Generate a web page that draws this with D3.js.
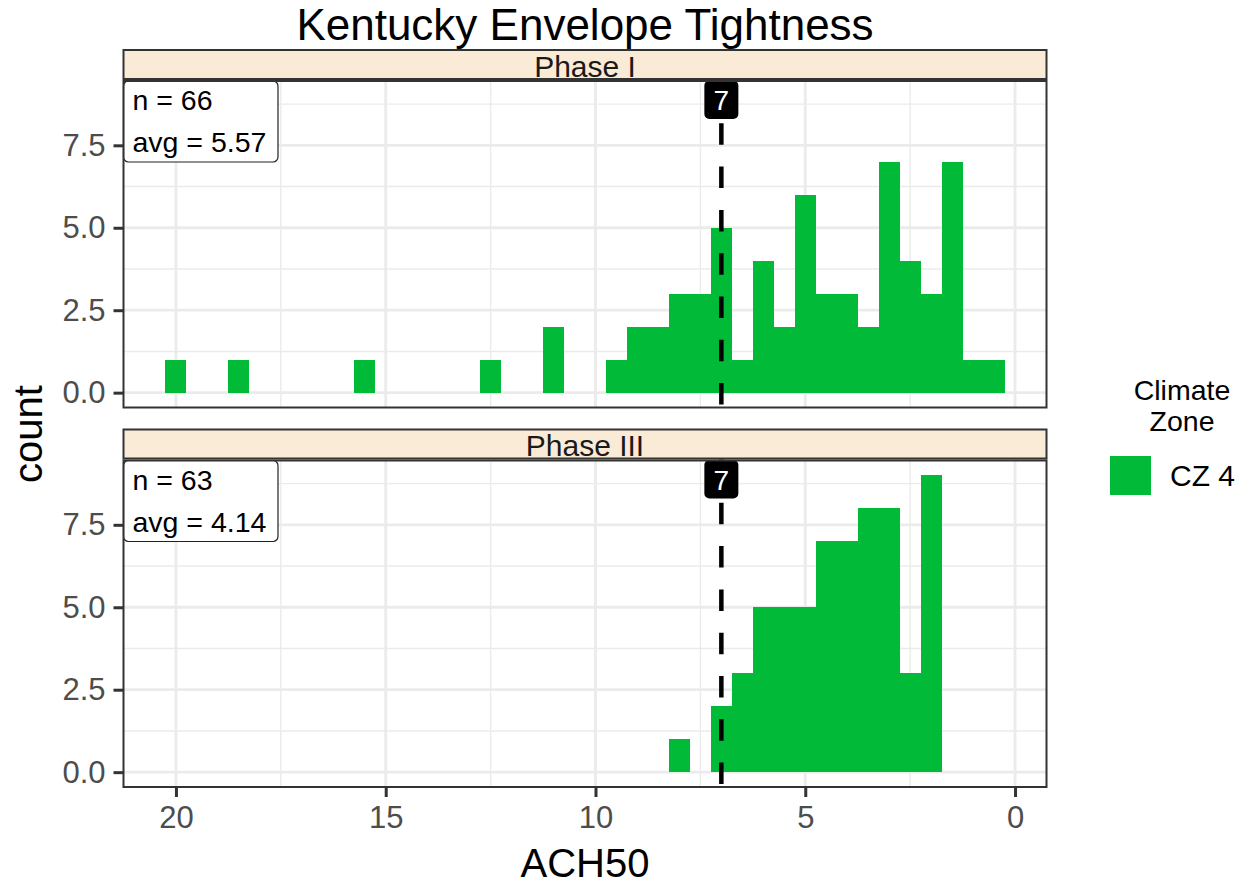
<!DOCTYPE html>
<html>
<head>
<meta charset="utf-8">
<script src="https://cdn.jsdelivr.net/npm/d3@7"></script>
<style>
  html, body { margin: 0; padding: 0; background: #ffffff; }
  svg { display: block; font-family: "Liberation Sans", Arial, Helvetica, sans-serif; }
</style>
</head>
<body>
<svg id="chart" width="1250" height="884"></svg>
<script>
// ACH50 histogram bins (bin centres, width 0.5) and counts per phase
const binWidth = 0.5;
const phase1Bins   = [20, 18.5, 15.5, 12.5, 11, 9.5, 9, 8.5, 8, 7.5, 7, 6.5, 6, 5.5, 5, 4.5, 4, 3.5, 3, 2.5, 2, 1.5, 1, 0.5];
const phase1Counts = [1, 1, 1, 1, 2, 1, 2, 2, 3, 3, 5, 1, 4, 2, 6, 3, 3, 2, 7, 4, 3, 7, 1, 1];
const phase3Bins   = [8, 7, 6.5, 6, 5.5, 5, 4.5, 4, 3.5, 3, 2.5, 2];
const phase3Counts = [1, 2, 3, 5, 5, 5, 7, 7, 8, 8, 3, 9];

const facetNames = ["Phase I", "Phase III"];
const facetN     = [66, 63];
const facetAvg   = ["5.57", "4.14"];
const threshold  = 7;

const xTicks      = [20, 15, 10, 5, 0];
const xMinorTicks = [17.5, 12.5, 7.5, 2.5];
const yTicks      = [0, 2.5, 5, 7.5];
const yMinorTicks = [1.25, 3.75, 6.25, 8.75];

const legendTitle = ["Climate", "Zone"];
const legendLabel = "CZ 4";
const barColor = "#00BA38";

const svg = d3.select("#chart");

// layout
const L = 123.5, R = 1046.5;
const stripH = 29;
const panels = [
  { stripTop: 50,    top: 81,  bottom: 407.5 },
  { stripTop: 429.5, top: 460.5, bottom: 787 }
];

const x = d3.scaleLinear().domain([21.25, -0.75]).range([L, R]);

const facetData = [
  phase1Bins.map((b, i) => ({ c: b, n: phase1Counts[i] })),
  phase3Bins.map((b, i) => ({ c: b, n: phase3Counts[i] }))
];

// title
svg.append("text")
  .attr("x", (L + R) / 2).attr("y", 40)
  .attr("text-anchor", "middle")
  .attr("font-size", 44).attr("fill", "#000")
  .text("Kentucky Envelope Tightness");

panels.forEach((p, k) => {
  const y = d3.scaleLinear().domain([-0.45, 9.45]).range([p.bottom, p.top]);
  const g = svg.append("g");

  // panel background
  g.append("rect").attr("x", L).attr("y", p.top).attr("width", R - L).attr("height", p.bottom - p.top)
    .attr("fill", "#fff");

  // minor grid
  g.selectAll(null).data(xMinorTicks).join("line")
    .attr("x1", d => x(d)).attr("x2", d => x(d)).attr("y1", p.top).attr("y2", p.bottom)
    .attr("stroke", "#ebebeb").attr("stroke-width", 1.4);
  g.selectAll(null).data(yMinorTicks).join("line")
    .attr("x1", L).attr("x2", R).attr("y1", d => y(d)).attr("y2", d => y(d))
    .attr("stroke", "#ebebeb").attr("stroke-width", 1.4);
  // major grid
  g.selectAll(null).data(xTicks).join("line")
    .attr("x1", d => x(d)).attr("x2", d => x(d)).attr("y1", p.top).attr("y2", p.bottom)
    .attr("stroke", "#ebebeb").attr("stroke-width", 2.8);
  g.selectAll(null).data(yTicks).join("line")
    .attr("x1", L).attr("x2", R).attr("y1", d => y(d)).attr("y2", d => y(d))
    .attr("stroke", "#ebebeb").attr("stroke-width", 2.8);

  // histogram bars
  g.selectAll(null).data(facetData[k]).join("rect")
    .attr("x", d => x(d.c + binWidth / 2))
    .attr("width", d => x(d.c - binWidth / 2) - x(d.c + binWidth / 2))
    .attr("y", d => y(d.n))
    .attr("height", d => y(0) - y(d.n))
    .attr("fill", barColor)
    .attr("shape-rendering", "crispEdges");

  // threshold line
  g.append("line")
    .attr("x1", x(threshold)).attr("x2", x(threshold))
    .attr("y1", p.top - 1).attr("y2", p.bottom)
    .attr("stroke", "#000").attr("stroke-width", 4.5)
    .attr("stroke-dasharray", "21.5 21.8");

  // threshold label
  const lw = 34, lh = 38.5;
  g.append("rect")
    .attr("x", x(threshold) - lw / 2).attr("y", p.top - 0.5)
    .attr("width", lw).attr("height", lh).attr("rx", 5).attr("ry", 5)
    .attr("fill", "#000");
  g.append("text")
    .attr("x", x(threshold)).attr("y", p.top + 29)
    .attr("text-anchor", "middle").attr("font-size", 28).attr("fill", "#fff")
    .text(String(threshold));

  // n / avg label box
  g.append("rect")
    .attr("x", L).attr("y", p.top)
    .attr("width", 154.5).attr("height", 81).attr("rx", 5).attr("ry", 5)
    .attr("fill", "#fff").attr("stroke", "#222").attr("stroke-width", 1.2);
  g.append("text").attr("x", L + 9).attr("y", p.top + 29)
    .attr("font-size", 28.5).attr("fill", "#000").text("n = " + facetN[k]);
  g.append("text").attr("x", L + 9).attr("y", p.top + 71)
    .attr("font-size", 28.5).attr("fill", "#000").text("avg = " + facetAvg[k]);

  // panel border
  g.append("rect").attr("x", L).attr("y", p.top).attr("width", R - L).attr("height", p.bottom - p.top)
    .attr("fill", "none").attr("stroke", "#333").attr("stroke-width", 2);

  // strip
  g.append("rect").attr("x", L).attr("y", p.stripTop).attr("width", R - L).attr("height", stripH)
    .attr("fill", "#FAEBD7").attr("stroke", "#333").attr("stroke-width", 2);
  g.append("text").attr("x", (L + R) / 2).attr("y", p.stripTop + 26.5)
    .attr("text-anchor", "middle").attr("font-size", 30).attr("fill", "#1a1a1a")
    .text(facetNames[k]);

  // y axis
  const yAxis = g.append("g").attr("transform", `translate(${L},0)`)
    .call(d3.axisLeft(y).tickValues(yTicks).tickFormat(d3.format(".1f")).tickSize(10).tickPadding(8));
  yAxis.select(".domain").remove();
  yAxis.selectAll(".tick line").attr("stroke", "#333").attr("stroke-width", 3);
  yAxis.selectAll(".tick text").attr("fill", "#4d4d4d").attr("font-size", 31)
    .attr("font-family", "Liberation Sans, Arial, sans-serif");

  // x axis on bottom panel only
  if (k === panels.length - 1) {
    const xAxis = g.append("g").attr("transform", `translate(0,${p.bottom})`)
      .call(d3.axisBottom(x).tickValues(xTicks).tickFormat(d3.format("d")).tickSize(10).tickPadding(9));
    xAxis.select(".domain").remove();
    xAxis.selectAll(".tick line").attr("stroke", "#333").attr("stroke-width", 3);
    xAxis.selectAll(".tick text").attr("fill", "#4d4d4d").attr("font-size", 31)
      .attr("font-family", "Liberation Sans, Arial, sans-serif");
  }
});

// axis titles
svg.append("text")
  .attr("x", (L + R) / 2).attr("y", 877)
  .attr("text-anchor", "middle").attr("font-size", 40).attr("fill", "#000")
  .text("ACH50");
svg.append("text")
  .attr("transform", `translate(42,${(panels[0].top + panels[1].bottom) / 2}) rotate(-90)`)
  .attr("text-anchor", "middle").attr("font-size", 40).attr("fill", "#000")
  .text("count");

// legend
const legend = svg.append("g");
legendTitle.forEach((t, i) => {
  legend.append("text").attr("x", 1182).attr("y", 400 + i * 31)
    .attr("text-anchor", "middle").attr("font-size", 28.5).attr("fill", "#000").text(t);
});
legend.append("rect").attr("x", 1110).attr("y", 456).attr("width", 41).attr("height", 39)
  .attr("fill", barColor);
legend.append("text").attr("x", 1170).attr("y", 486)
  .attr("font-size", 30).attr("fill", "#000").text(legendLabel);
</script>
</body>
</html>
